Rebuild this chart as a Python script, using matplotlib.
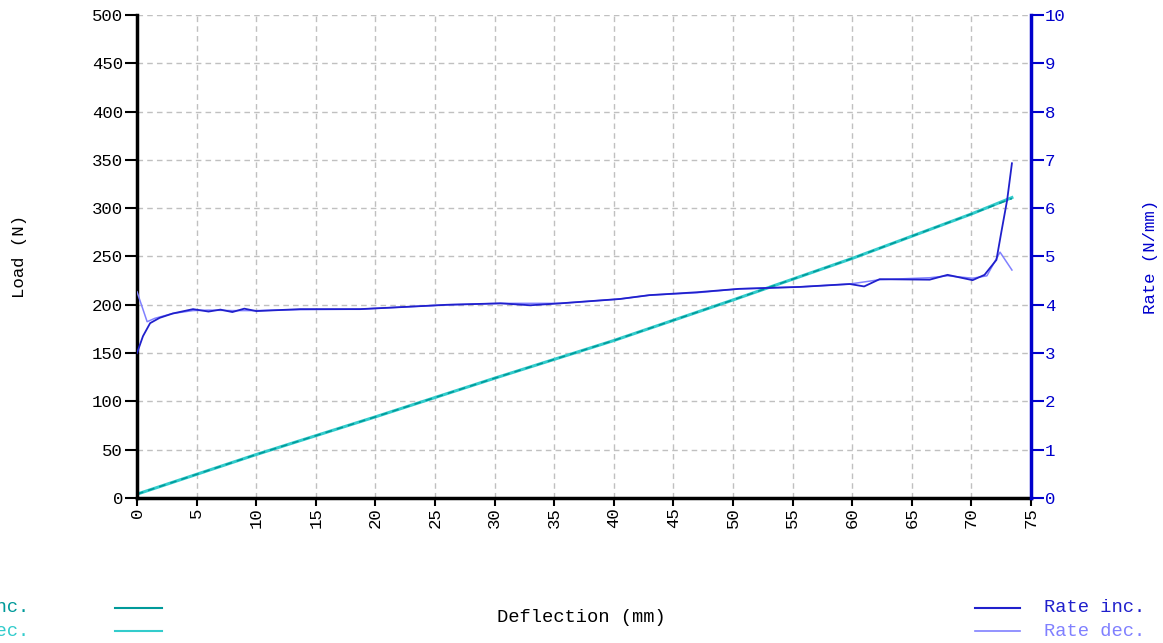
import matplotlib
matplotlib.use("Agg")
import matplotlib.pyplot as plt
from matplotlib.lines import Line2D

plt.rcParams['font.family'] = ['Liberation Mono', 'DejaVu Sans Mono']

# deflection (mm) vs load (N)
load_x = [0, 10, 20, 30, 40, 50, 60, 70, 73.4]
load_inc = [4, 45, 84, 124, 163, 205, 248, 294, 310]
load_dec = [4, 45, 84, 124, 163, 205, 248, 294, 311]

# deflection (mm) vs rate (N/mm)
rate_inc_x = [0, 0.5, 1.1, 1.9, 3, 4.7, 6, 7, 8, 9, 10, 13.7, 18.7, 22, 26, 30.5,
              33, 35.5, 40.5, 43, 47, 50.5, 55.6, 59.8, 61, 62.3, 66.5, 68,
              70.1, 71.1, 72.1, 72.5, 73, 73.4]
rate_inc = [3.0, 3.35, 3.62, 3.73, 3.82, 3.91, 3.86, 3.9, 3.85, 3.92, 3.87, 3.91,
            3.91, 3.95, 4.0, 4.03, 3.99, 4.03, 4.12, 4.2, 4.26, 4.33, 4.37, 4.43,
            4.38, 4.53, 4.52, 4.62, 4.51, 4.62, 4.93, 5.49, 6.17, 6.93]
rate_dec_x = [0, 0.85, 1.5, 3, 4.7, 6, 8, 10, 13.7, 18.7, 22, 26, 30.5, 35.5,
              40.5, 43, 47, 50.5, 55.6, 59.8, 62.3, 66.5, 68, 70.1, 71.3, 72.4,
              73.4]
rate_dec = [4.27, 3.65, 3.72, 3.82, 3.88, 3.89, 3.88, 3.88, 3.9, 3.91, 3.95, 4.0,
            4.03, 4.03, 4.12, 4.2, 4.25, 4.33, 4.37, 4.43, 4.52, 4.56, 4.6, 4.55,
            4.6, 5.09, 4.72]

c_load_inc = "#009a9a"
c_load_dec = "#33cccc"
c_rate_inc = "#2020cc"
c_rate_dec = "#8080ff"
c_axis_r = "#0000cc"

fs = 12.5

fig = plt.figure(figsize=(11.63, 6.43), dpi=100)
ax = fig.add_axes([0.1178, 0.2255, 0.7687, 0.7512])
ax2 = ax.twinx()

ax.plot(load_x, load_dec, color=c_load_dec, lw=2.2)
ax.plot(load_x, load_inc, color=c_load_inc, lw=1.2, ls=(0, (4, 3)))
ax2.plot(rate_dec_x, rate_dec, color=c_rate_dec, lw=1.1)
ax2.plot(rate_inc_x, rate_inc, color=c_rate_inc, lw=1.3)

ax.set_xlim(0, 75)
ax.set_ylim(0, 500)
ax2.set_ylim(0, 10)
ax.set_xticks(range(0, 76, 5))
ax.set_yticks(range(0, 501, 50))
ax2.set_yticks(range(0, 11))

ax.grid(True, color="#c0c0c0", ls=(0, (4, 3)), lw=1)
ax.tick_params(axis='both', labelsize=fs, width=1.5, length=9, pad=1, colors='black')
ax.tick_params(axis='x', labelrotation=90, length=6)
ax2.tick_params(axis='y', labelsize=fs, width=1.5, length=9, pad=1, colors=c_axis_r)

for a in (ax, ax2):
    a.spines['top'].set_visible(False)
ax.spines['left'].set_linewidth(2.5)
ax.spines['bottom'].set_linewidth(2.5)
ax.spines['right'].set_visible(False)
ax2.spines['left'].set_visible(False)
ax2.spines['bottom'].set_visible(False)
ax2.spines['right'].set_linewidth(2.5)
ax2.spines['right'].set_color(c_axis_r)

fig.text(20 / 1163, 1 - 257 / 643, "Load (N)", rotation=90, ha='center', va='center', fontsize=fs)
fig.text(1150 / 1163, 1 - 257 / 643, "Rate (N/mm)", rotation=90, ha='center', va='center',
         fontsize=fs, color=c_axis_r)
fig.text(581 / 1163, 1 - 617 / 643, "Deflection (mm)", ha='center', va='center', fontsize=13.5)

# legend entries along the bottom
def legend_row(x0, x1, y, color, lw):
    fig.add_artist(Line2D([x0 / 1163, x1 / 1163], [1 - y / 643, 1 - y / 643],
                          color=color, lw=lw, transform=fig.transFigure))

legend_row(115, 162, 608, c_load_inc, 1.5)
legend_row(115, 162, 631, c_load_dec, 1.5)
legend_row(975, 1020, 608, c_rate_inc, 1.5)
legend_row(975, 1020, 631, c_rate_dec, 1.2)
fig.text(29 / 1163, 1 - 608 / 643, "Load inc.", ha='right', va='center', fontsize=13.5, color=c_load_inc)
fig.text(29 / 1163, 1 - 631 / 643, "Load dec.", ha='right', va='center', fontsize=13.5, color=c_load_dec)
fig.text(1044 / 1163, 1 - 608 / 643, "Rate inc.", ha='left', va='center', fontsize=13.5, color=c_rate_inc)
fig.text(1044 / 1163, 1 - 631 / 643, "Rate dec.", ha='left', va='center', fontsize=13.5, color=c_rate_dec)

fig.savefig("out.png", dpi=100)
